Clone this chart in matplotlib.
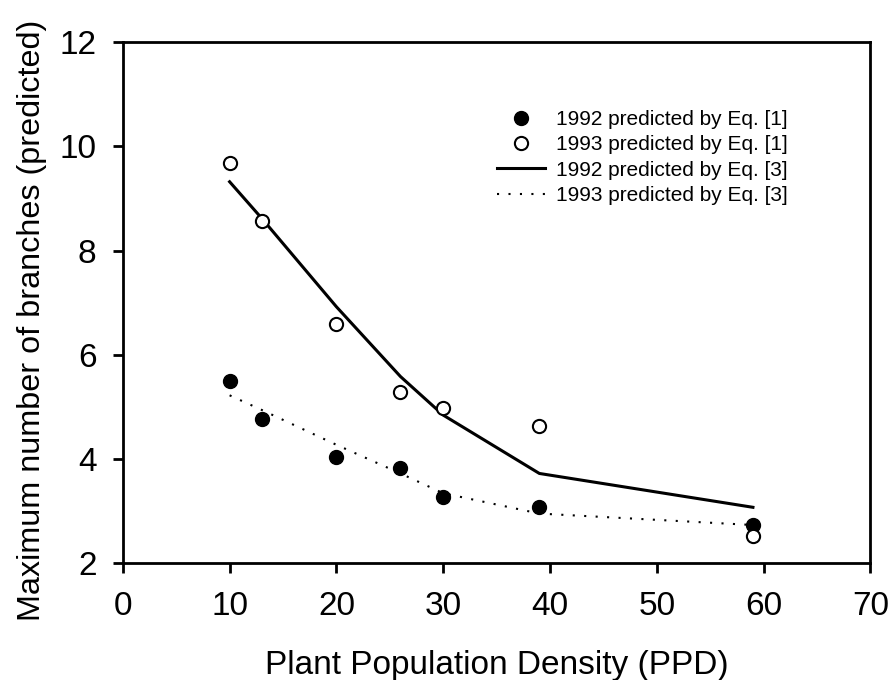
import matplotlib
matplotlib.use("Agg")
import matplotlib.pyplot as plt
from matplotlib.lines import Line2D

plt.rcParams['font.family'] = ['Liberation Sans', 'DejaVu Sans']

ppd = [10, 13, 20, 26, 30, 39, 59]
eq1_1992 = [5.50, 4.76, 4.04, 3.82, 3.27, 3.08, 2.73]
eq1_1993 = [9.68, 8.57, 6.58, 5.29, 4.97, 4.63, 2.52]
eq3_1992 = [9.32, 8.62, 6.92, 5.58, 4.84, 3.72, 3.07]
eq3_1993 = [5.22, 4.94, 4.27, 3.72, 3.34, 2.95, 2.73]

labels = ["1992 predicted by Eq. [1]", "1993 predicted by Eq. [1]",
          "1992 predicted by Eq. [3]", "1993 predicted by Eq. [3]"]

fig = plt.figure(figsize=(8.9, 6.8), dpi=100)
ax = fig.add_axes([0.138, 0.172, 0.840, 0.766])

ax.plot(ppd, eq3_1992, color='black', lw=2.2, ls='-', zorder=2)
ax.plot(ppd, eq3_1993, color='black', lw=1.5, ls=(0, (1, 4.5)), zorder=2)
ax.plot(ppd, eq1_1992, ls='none', marker='o', ms=10, mfc='black', mec='black', zorder=3)
ax.plot(ppd, eq1_1993, ls='none', marker='o', ms=9.5, mfc='white', mec='black', mew=1.5, zorder=3)

ax.set_xlim(0, 70)
ax.set_ylim(2, 12)
ax.set_xticks(range(0, 71, 10))
ax.set_yticks(range(2, 13, 2))
for s in ax.spines.values():
    s.set_linewidth(2)
ax.tick_params(direction='out', length=7, width=2, labelsize=24, pad=12)
ax.tick_params(axis='x', pad=13)
ax.set_xlabel("Plant Population Density (PPD)", fontsize=24, labelpad=20)
ax.set_ylabel("Maximum number of branches (predicted)", fontsize=23.3, labelpad=9)
ax.yaxis.label.set_y(0.466)

handles = [
    Line2D([], [], ls='none', marker='o', ms=10, mfc='black', mec='black'),
    Line2D([], [], ls='none', marker='o', ms=9.5, mfc='white', mec='black', mew=1.5),
    Line2D([], [], color='black', lw=2.2),
    Line2D([], [], color='black', lw=1.5, ls=(0, (1, 4.5))),
]
ax.legend(handles, labels, loc='upper left', bbox_to_anchor=(0.50, 0.87),
          frameon=False, fontsize=15, handlelength=2.3, handletextpad=0.55,
          labelspacing=0.31, borderpad=0, borderaxespad=0)

fig.savefig("out.png", dpi=100)
